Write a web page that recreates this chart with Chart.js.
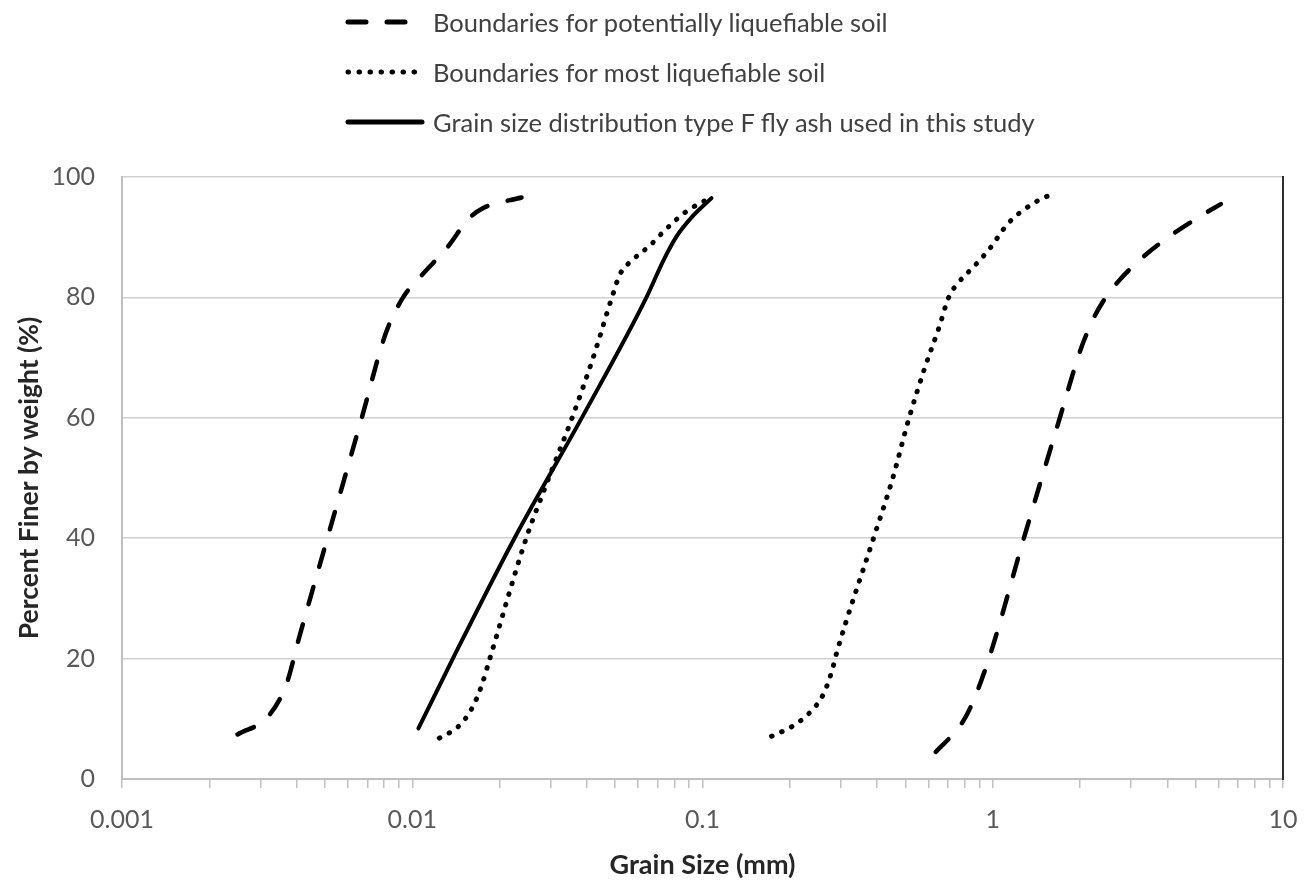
<!DOCTYPE html>
<html>
<head>
<meta charset="utf-8">
<script src="https://cdn.jsdelivr.net/npm/chart.js@4.4.1/dist/chart.umd.min.js"></script>
<style>
  body { margin: 0; background: #fff; }
  #wrap { position: relative; width: 1304px; height: 882px; }
  #legend { position: absolute; left: 345px; top: -3px; font-family: Lato, sans-serif; font-size: 25.5px; color: #404040; }
  .row { display: flex; align-items: center; height: 50px; white-space: nowrap; }
  .row svg { margin-right: 8px; }
</style>
</head>
<body>
<div id="wrap">
  <canvas id="myChart" width="1304" height="882"></canvas>
  <div id="legend"></div>
</div>
<script>
// grain size (mm) vs percent finer (%)
const potLowX = [0.0025, 0.0032, 0.0037, 0.00405, 0.0051, 0.0067, 0.0081, 0.0093, 0.0107, 0.0133, 0.0156, 0.0175, 0.0238];
const potLowY = [7.4, 10.5, 16, 23, 40, 60, 74, 80, 83.5, 88.5, 93, 94.8, 96.6];

const potHighX = [0.636, 0.776, 0.84, 0.97, 1.28, 1.71, 2.01, 2.23, 2.39, 2.69, 3.24, 4.11, 5.36, 6.11];
const potHighY = [4.5, 9, 12, 20, 40, 60.3, 71.4, 76.6, 79.2, 82.5, 86.4, 90.3, 93.9, 95.5];

const mostLowX = [0.0124, 0.0144, 0.016, 0.0173, 0.0185, 0.0247, 0.029, 0.0358, 0.042, 0.0492, 0.0519, 0.0577, 0.0658, 0.0751, 0.0881, 0.106];
const mostLowY = [6.8, 8.7, 11.6, 15.4, 20, 40, 49, 60.4, 70, 80.6, 83.8, 86.3, 88.6, 91.4, 94.3, 96.5];

const mostHighX = [0.173, 0.203, 0.235, 0.261, 0.279, 0.29, 0.389, 0.45, 0.513, 0.586, 0.652, 0.705, 0.763, 0.86, 0.969, 1.135, 1.4, 1.645];
const mostHighY = [7.1, 8.7, 11.1, 14.1, 17.9, 21, 40.1, 49.6, 59.7, 68.6, 74.9, 80, 82.5, 85.1, 87.9, 92.4, 95.8, 97.4];

const flyAshX = [0.0105, 0.0138, 0.0225, 0.0388, 0.0641, 0.0731, 0.0813, 0.0917, 0.1074];
const flyAshY = [8.4, 20, 40, 60.4, 80, 86, 90.1, 93.3, 96.5];

const xTickLabels = ['0.001', '0.01', '0.1', '1', '10'];

const labelPot = 'Boundaries for potentially liquefiable soil';
const labelMost = 'Boundaries for most liquefiable soil';
const labelAsh = 'Grain size distribution type F fly ash used in this study';

const dashed = [18, 21];
const dotted = [0.5, 10.5];

const toPoints = (xs, ys) => xs.map((x, i) => ({ x: x, y: ys[i] }));

const line = (label, xs, ys, dash, width, inLegend) => ({
    label: label,
    data: toPoints(xs, ys),
    borderColor: '#000',
    borderWidth: width,
    borderDash: dash,
    borderCapStyle: 'round',
    pointRadius: 0,
    fill: false,
    cubicInterpolationMode: 'monotone',
    inLegend: inLegend
});

const ctx = document.getElementById('myChart').getContext('2d');

const myChart = new Chart(ctx, {
    type: 'line',
    data: {
        datasets: [
            line(labelPot, potLowX, potLowY, dashed, 4.5, true),
            line(labelPot, potHighX, potHighY, dashed, 4.5, false),
            line(labelMost, mostLowX, mostLowY, dotted, 5, true),
            line(labelMost, mostHighX, mostHighY, dotted, 5, false),
            line(labelAsh, flyAshX, flyAshY, [], 4, true)
        ]
    },
    options: {
        responsive: false,
        animation: false,
        layout: { padding: { top: 177, right: 21, bottom: 0, left: 0 } },
        font: { family: 'Lato' },
        plugins: {
            legend: { display: false },
            tooltip: { enabled: false }
        },
        scales: {
            x: {
                type: 'logarithmic',
                min: 0.001,
                max: 10,
                afterBuildTicks: (scale) => {
                    scale.ticks = scale.ticks.filter(t => {
                        const m = t.value / Math.pow(10, Math.floor(Math.log10(t.value) + 1e-9));
                        return Math.abs(m - Math.round(m)) < 1e-6;
                    });
                },
                afterFit: (scale) => {
                    scale.height = 103;
                    scale.paddingLeft = 0;
                    scale.paddingRight = 0;
                },
                grid: { drawOnChartArea: false, drawTicks: true, tickLength: 9, color: '#bfbfbf', lineWidth: 1.5 },
                border: { color: '#bfbfbf', width: 2 },
                ticks: {
                    autoSkip: false,
                    maxRotation: 0,
                    padding: 17,
                    color: '#595959',
                    font: { family: 'Lato', size: 25 },
                    callback: (v) => xTickLabels.includes(String(v)) ? String(v) : ''
                },
                title: {
                    display: true,
                    text: 'Grain Size (mm)',
                    color: '#262626',
                    font: { family: 'Lato', size: 27, weight: 'bold' },
                    padding: { top: 0, bottom: 1 }
                }
            },
            y: {
                min: 0,
                max: 100,
                afterFit: (scale) => { scale.width = 122; },
                grid: { color: '#d0d0d0', lineWidth: 1.5, drawTicks: false },
                border: { color: '#bfbfbf', width: 2 },
                ticks: {
                    stepSize: 20,
                    padding: 27,
                    color: '#595959',
                    font: { family: 'Lato', size: 25 }
                },
                title: {
                    display: true,
                    text: 'Percent Finer by weight (%)',
                    color: '#262626',
                    font: { family: 'Lato', size: 26.5, weight: 'bold' },
                    padding: { top: 14, bottom: 0 }
                }
            },
            y2: {
                position: 'right',
                min: 0,
                max: 100,
                afterFit: (scale) => { scale.width = 0; },
                grid: { drawOnChartArea: false, drawTicks: false },
                border: { color: '#303030', width: 2 },
                ticks: { display: false }
            }
        }
    }
});

// legend above the plot, one row per series
const legendBox = document.getElementById('legend');
myChart.data.datasets.filter(d => d.inLegend).forEach(d => {
    const row = document.createElement('div');
    row.className = 'row';
    const dash = d.borderDash.length ? ` stroke-dasharray="${d.borderDash.join(' ')}"` : '';
    row.innerHTML = `<svg width="80" height="12"><line x1="3" y1="6" x2="77" y2="6" stroke="${d.borderColor}" stroke-width="5" stroke-linecap="round"${dash}/></svg><span>${d.label}</span>`;
    legendBox.appendChild(row);
});
</script>
</body>
</html>
